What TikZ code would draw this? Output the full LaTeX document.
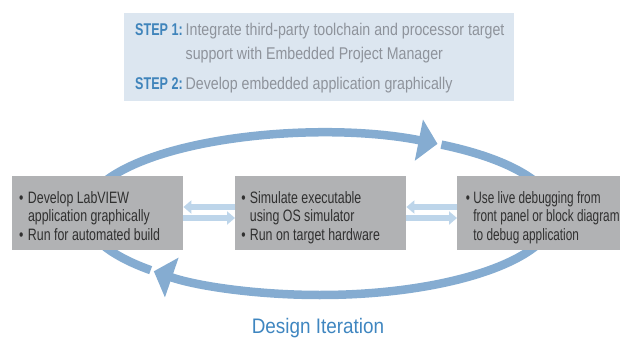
\documentclass[tikz,border=0pt]{standalone}
\usepackage{fontspec}
\setmainfont{Liberation Sans}[FakeStretch=0.75]
\newfontfamily\narrowfont{Liberation Sans}[FakeStretch=0.715]
\newfontfamily\panelfont{Liberation Sans}[FakeStretch=0.835]
\newfontfamily\labelfont{Liberation Sans}[FakeStretch=0.74]
\newfontfamily\capfont{Liberation Sans}[FakeStretch=0.9]
\usetikzlibrary{arrows.meta}
\definecolor{ringblue}{HTML}{85ACD1}
\definecolor{paleblue}{HTML}{BDD5EA}
\definecolor{stepbg}{HTML}{DCE6F0}
\definecolor{stepblue}{HTML}{3F84BB}
\definecolor{steptext}{HTML}{8E939B}
\definecolor{boxgrey}{HTML}{B1B2B4}
\definecolor{boxtext}{HTML}{303030}
\definecolor{titleblue}{HTML}{3F86C0}
\tikzset{
  ring/.style={draw=ringblue, line width=8.5pt},
  ringtip/.style={-{Triangle[width=41pt,length=19pt]}},
  stagebox/.style={fill=boxgrey, anchor=north west, inner sep=0pt, minimum height=74pt},
  stagetxt/.style={anchor=north west, inner sep=0pt, align=left, text=boxtext,
    font=\fontsize{16.5}{18.35}\selectfont},
  flow/.style={draw=paleblue, line width=5.5pt, -{Triangle[width=13pt,length=8pt]}},
  steptxt/.style={anchor=base west, inner sep=0pt, text=steptext, font=\panelfont\fontsize{17}{19}\selectfont},
  steplbl/.style={anchor=base west, inner sep=0pt, text=stepblue, font=\labelfont\fontsize{17}{19}\selectfont\bfseries},
}
% bullet item and continuation line with a hanging indent
\newcommand{\itm}[1]{\makebox[#1][l]{\textbullet}}
\newcommand{\cont}[1]{\hspace*{#1}}
\newcommand{\toprule}{\rule{0pt}{14pt}}
\begin{document}
\begin{tikzpicture}[x=1pt,y=1pt]
\useasboundingbox (0,0) rectangle (620,-337);

% step panel
\node[fill=stepbg, anchor=north west, minimum width=390pt, minimum height=88pt, inner sep=0pt]
  (panel) at (124,-13) {};
\node[steplbl] (s1) at (135,-36) {STEP 1:};
\node[steptxt] (s1a) at (185.5,-36) {Integrate third-party toolchain and processor target};
\node[steptxt] (s1b) at (185.5,-59.3) {support with Embedded Project Manager};
\node[steplbl] (s2) at (135,-89) {STEP 2:};
\node[steptxt] (s2a) at (185.5,-89) {Develop embedded application graphically};

% iteration loop, drawn clockwise in two halves
\coordinate (c) at (320,-214);
\draw[ring, ringtip] (c) ++(58.9:235 and 81)
  arc[start angle=58.9, end angle=-135, x radius=235, y radius=81];
\draw[ring, ringtip] (c) ++(223.9:235 and 81)
  arc[start angle=223.9, end angle=60, x radius=235, y radius=81];

% stages
\node[stagebox, minimum width=171pt] (dev) at (12,-176) {};
\node[stagebox, minimum width=171pt] (sim) at (235,-176) {};
\node[stagebox, minimum width=170pt] (dbg) at (457,-176) {};

\node[stagetxt] (devtxt) at (18.8,-189.3)
  {\toprule\itm{9pt}Develop LabVIEW\\
   \cont{9pt}application graphically\\
   \itm{9pt}Run for automated build};
\node[stagetxt] (simtxt) at (241.2,-189.3)
  {\toprule\itm{8.5pt}Simulate executable\\
   \cont{8.5pt}using OS simulator\\
   \itm{8.5pt}Run on target hardware};
\node[stagetxt, font=\narrowfont\fontsize{16.5}{18.35}\selectfont] (dbgtxt) at (465.6,-189.3)
  {\toprule\itm{7.6pt}Use live debugging from\\
   \cont{7.6pt}front panel or block diagram\\
   \cont{7.6pt}to debug application};

% hand-offs between stages
\draw[flow] ([yshift=-31pt]sim.north west) -- ([yshift=-31pt]dev.north east);
\draw[flow] ([yshift=-42pt]dev.north east) -- ([yshift=-42pt]sim.north west);
\draw[flow] ([yshift=-31pt]dbg.north west) -- ([yshift=-31pt]sim.north east);
\draw[flow] ([yshift=-42pt]sim.north east) -- ([yshift=-42pt]dbg.north west);

% caption
\node[anchor=base, inner sep=0pt, text=titleblue, font=\capfont\fontsize{21}{24}\selectfont]
  (cap) at (318,-333) {Design Iteration};
\end{tikzpicture}
\end{document}
